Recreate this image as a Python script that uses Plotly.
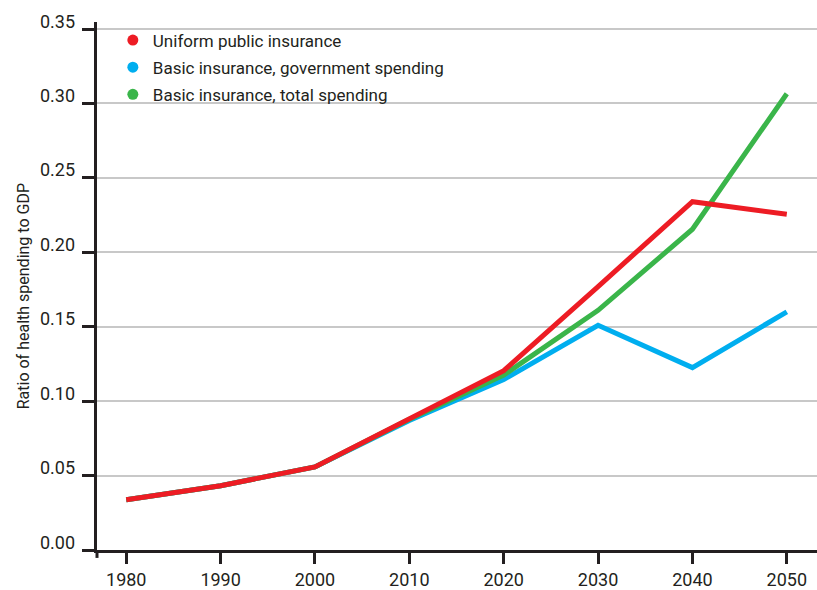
import plotly.graph_objects as go

# Health spending as a share of GDP, by insurance scenario
years = [1980, 1990, 2000, 2010, 2020, 2030, 2040, 2050]
uniform_public = [0.0338, 0.0432, 0.0558, 0.0884, 0.1205, 0.1770, 0.2340, 0.2255]
basic_government = [0.0338, 0.0432, 0.0558, 0.0870, 0.1145, 0.1510, 0.1225, 0.1600]
basic_total = [0.0338, 0.0432, 0.0558, 0.0878, 0.1175, 0.1610, 0.2155, 0.3065]

y_ticks = [0.00, 0.05, 0.10, 0.15, 0.20, 0.25, 0.30, 0.35]
x_ticks = [1980, 1990, 2000, 2010, 2020, 2030, 2040, 2050]
y_title = "Ratio of health spending to GDP"

series = [
    ("Basic insurance, government spending", basic_government, "#00AEEF"),
    ("Basic insurance, total spending", basic_total, "#3AB54A"),
    ("Uniform public insurance", uniform_public, "#ED1C24"),
]
legend_order = [
    ("Uniform public insurance", "#ED1C24"),
    ("Basic insurance, government spending", "#00AEEF"),
    ("Basic insurance, total spending", "#3AB54A"),
]

ink = "#231F20"
font_family = "Roboto"

fig = go.Figure()
for name, values, color in series:
    fig.add_trace(go.Scatter(
        x=years, y=values, mode="lines", name=name, showlegend=False,
        line=dict(color=color, width=5),
    ))
for i, (name, color) in enumerate(legend_order):
    fig.add_trace(go.Scatter(
        x=[None], y=[None], mode="markers", name=name, legendrank=i + 1,
        legendgroup=f"g{i}",
        marker=dict(color=color, size=11),
    ))

# y tick labels sit just above their tick marks
annotations = [
    dict(
        text=f"{t:.2f}", xref="paper", yref="y", x=0, y=t,
        xanchor="right", yanchor="middle", xshift=-20, yshift=8,
        showarrow=False, font=dict(size=18, color=ink),
    )
    for t in y_ticks
]
annotations.append(dict(
    text=y_title, xref="paper", yref="paper", x=0, y=0.4805,
    xanchor="center", yanchor="middle", xshift=-74, textangle=-90,
    showarrow=False, font=dict(size=16, color=ink),
))

fig.update_layout(
    width=817, height=590,
    margin=dict(l=97, r=0, t=22, b=38),
    plot_bgcolor="white", paper_bgcolor="white",
    font=dict(family=font_family, size=17, color=ink),
    showlegend=True,
    legend=dict(
        x=0.022, y=0.999, xanchor="left", yanchor="top",
        bgcolor="rgba(0,0,0,0)", font=dict(size=17, color=ink),
        tracegroupgap=2,
    ),
    xaxis=dict(
        range=[1976.9, 2053.2],
        tickvals=x_ticks, ticktext=[str(t) for t in x_ticks],
        showgrid=False, zeroline=False,
        showline=True, linecolor=ink, linewidth=3,
        ticks="outside", ticklen=11, tickwidth=2.5, tickcolor=ink,
        tickfont=dict(size=18, color=ink),
    ),
    yaxis=dict(
        range=[0, 0.3547],
        tickvals=y_ticks, showticklabels=False,
        showgrid=True, gridcolor="#c8c8c8", gridwidth=1.5,
        zeroline=False,
        showline=True, linecolor=ink, linewidth=3,
        ticks="outside", ticklen=12, tickwidth=2.5, tickcolor=ink,
    ),
    annotations=annotations,
    shapes=[dict(
        type="line", xref="paper", yref="paper",
        x0=0, x1=0, y0=0, y1=-0.015,
        line=dict(color=ink, width=3),
    )],
)

fig.write_html("out.html")
